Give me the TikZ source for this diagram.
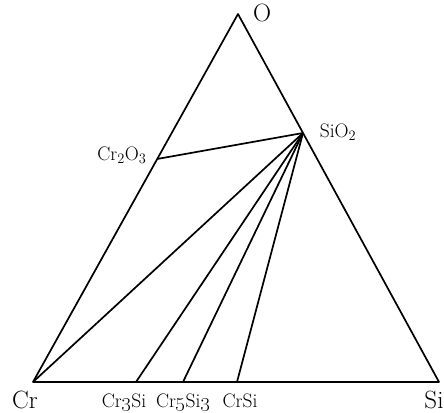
\documentclass[tikz,border=0pt]{standalone}
\begin{document}
\begin{tikzpicture}[x=1pt,y=-1pt,
  edge/.style={line width=1.7pt, line join=round},
  big/.style={font=\fontsize{25}{25}\selectfont, inner sep=0pt},
  small/.style={font=\fontsize{19.5}{19.5}\selectfont, inner sep=0pt}]
\useasboundingbox (0,0) rectangle (444,412);
\coordinate (O) at (238,14);
\coordinate (Cr) at (33,382);
\coordinate (Si) at (439,382);
\coordinate (SiO2) at (303,133);
\coordinate (Cr2O3) at (157,159);
\coordinate (Cr3Si) at (136,382);
\coordinate (Cr5Si3) at (183,382);
\coordinate (CrSi) at (237,382);
\draw[edge] (Cr) -- (O) -- (Si) -- cycle;
\draw[edge] (Cr2O3) -- (SiO2);
\draw[edge] (SiO2) -- (Cr);
\draw[edge] (SiO2) -- (Cr3Si);
\draw[edge] (SiO2) -- (Cr5Si3);
\draw[edge] (SiO2) -- (CrSi);
\node[big, anchor=base] (lO) at (262,22) {O};
\node[big, anchor=base] (lCr) at (25,408) {Cr};
\node[big, anchor=base] (lSi) at (434,408) {Si};
\node[small, anchor=base] (lCr3Si) at (124,407) {Cr\oldstylenums{3}Si};
\node[small, anchor=base] (lCr5Si3) at (183,407) {Cr\oldstylenums{5}Si\oldstylenums{3}};
\node[small, anchor=base] (lCrSi) at (240,407) {CrSi};
\node[small, anchor=base] (lSiO2) at (338,137) {SiO$_{\mathrm{2}}$};
\node[small, anchor=base] (lCr2O3) at (122,160) {Cr$_{\mathrm{2}}$O$_{\mathrm{3}}$};
\end{tikzpicture}
\end{document}
